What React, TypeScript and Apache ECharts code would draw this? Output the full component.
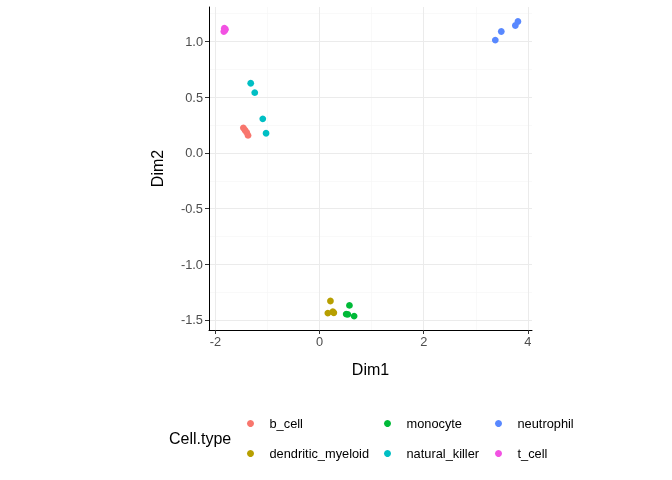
import React, { useEffect, useRef } from "react";
import * as echarts from "echarts";

const categories = ["b_cell", "dendritic_myeloid", "monocyte", "natural_killer", "neutrophil", "t_cell"];
const colors = ["#F8766D", "#B79F00", "#00BA38", "#00BFC4", "#5888FF", "#F252E2"];

const bCell: number[][] = [[-1.465, 0.225], [-1.433, 0.204], [-1.4, 0.184], [-1.375, 0.157]];
const dendriticMyeloid: number[][] = [[0.208, -1.33], [0.158, -1.438], [0.254, -1.426], [0.273, -1.435]];
const monocyte: number[][] = [[0.573, -1.369], [0.51, -1.447], [0.542, -1.45], [0.663, -1.465]];
const naturalKiller: number[][] = [[-1.323, 0.625], [-1.246, 0.541], [-1.092, 0.306], [-1.029, 0.177]];
const neutrophil: number[][] = [[3.375, 1.013], [3.49, 1.09], [3.76, 1.144], [3.81, 1.18]];
const tCell: number[][] = [[-1.83, 1.12], [-1.82, 1.1], [-1.84, 1.09], [-1.81, 1.11]];
const seriesData = [bCell, dendriticMyeloid, monocyte, naturalKiller, neutrophil, tCell];

const xTicks = [-2, 0, 2, 4];
const yTicks = [-1.5, -1.0, -0.5, 0.0, 0.5, 1.0];
const xMinor = [-1, 1, 3];
const yMinor = [-1.25, -0.75, -0.25, 0.25, 0.75, 1.25];

const FONT = "Liberation Sans, Arial, sans-serif";

export default function App() {
  const ref = useRef<HTMLDivElement>(null);
  useEffect(() => {
    if (!ref.current) return;
    const chart = echarts.init(ref.current, null, { renderer: "svg" });
    const majorStyle = { color: "#EBEBEB", width: 1, type: "solid" as const };
    const minorStyle = { color: "#F5F5F5", width: 0.6, type: "solid" as const };
    const gridLines = [
      ...xMinor.map((v) => ({ xAxis: v, lineStyle: minorStyle })),
      ...yMinor.map((v) => ({ yAxis: v, lineStyle: minorStyle })),
      ...xTicks.map((v) => ({ xAxis: v, lineStyle: majorStyle })),
      ...yTicks.map((v) => ({ yAxis: v, lineStyle: majorStyle })),
    ];
    const legendCommon = {
      orient: "vertical" as const,
      icon: "circle",
      itemWidth: 28,
      itemHeight: 7,
      itemGap: 17,
      textStyle: { fontFamily: FONT, fontSize: 12.8, color: "#000" },
      selectedMode: false,
    };
    chart.setOption({
      animation: false,
      textStyle: { fontFamily: FONT },
      grid: { left: 209, top: 7, width: 323, height: 323, containLabel: false },
      xAxis: {
        type: "value",
        min: -2.125,
        max: 4.08,
        name: "Dim1",
        nameLocation: "middle",
        nameGap: 31,
        nameTextStyle: { fontFamily: FONT, fontSize: 16, color: "#000" },
        axisLine: { onZero: false, lineStyle: { color: "#000", width: 1 } },
        axisTick: { show: true, length: 4, customValues: xTicks, lineStyle: { color: "#333" } },
        axisLabel: { customValues: xTicks, fontFamily: FONT, fontSize: 12.8, color: "#4D4D4D", margin: 5 },
        splitLine: { show: false },
        z: 5,
      },
      yAxis: {
        type: "value",
        min: -1.59,
        max: 1.31,
        name: "Dim2",
        nameLocation: "middle",
        nameGap: 44,
        nameTextStyle: { fontFamily: FONT, fontSize: 16, color: "#000" },
        axisLine: { onZero: false, lineStyle: { color: "#000", width: 1 } },
        axisTick: { show: true, length: 4, customValues: yTicks, lineStyle: { color: "#333" } },
        axisLabel: {
          customValues: yTicks,
          fontFamily: FONT,
          fontSize: 12.8,
          color: "#4D4D4D",
          margin: 6,
          formatter: (v: number) => v.toFixed(1),
        },
        splitLine: { show: false },
        z: 5,
      },
      legend: [
        { ...legendCommon, left: 242, top: 412, data: [categories[0], categories[1]] },
        { ...legendCommon, left: 379, top: 412, data: [categories[2], categories[3]] },
        { ...legendCommon, left: 490, top: 412, data: [categories[4], categories[5]] },
      ],
      graphic: [
        {
          type: "text",
          left: 169,
          top: 430,
          style: { text: "Cell.type", font: `16px ${FONT}`, fill: "#000" },
        },
      ],
      series: [
        {
          type: "scatter",
          name: "grid",
          data: [],
          silent: true,
          z: 0,
          markLine: {
            silent: true,
            z: 0,
            symbol: ["none", "none"],
            label: { show: false },
            animation: false,
            data: gridLines,
          },
        },
        ...categories.map((c, i) => ({
          type: "scatter",
          name: c,
          data: seriesData[i],
          symbolSize: 6.8,
          itemStyle: { color: colors[i], opacity: 1 },
          z: 10,
        })),
      ],
    });
    return () => chart.dispose();
  }, []);
  return <div ref={ref} style={{ position: "fixed", left: 0, top: 0, width: 672, height: 480 }} />;
}
